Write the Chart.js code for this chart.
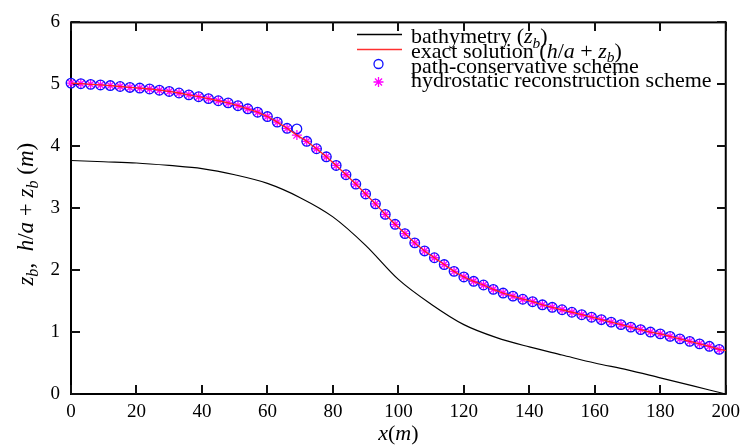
<!DOCTYPE html>
<html>
<head>
<meta charset="utf-8">
<script src="https://cdn.jsdelivr.net/npm/chart.js@4/dist/chart.umd.min.js"></script>
<style>
  html, body { margin: 0; padding: 0; background: #ffffff; }
  #wrap { width: 747px; height: 448px; }
</style>
</head>
<body>
<div id="wrap"><canvas id="c" width="747" height="448"></canvas></div>
<script>
// ---------- data ----------
const xTickLabels = ['0','20','40','60','80','100','120','140','160','180','200'];
const yTickLabels = ['0','1','2','3','4','5','6'];

const bathX = [0,10,20,30,40,50,60,70,80,90,100,110,120,130,140,150,160,170,180,190,200];
const bathY = [3.77,3.75,3.73,3.69,3.64,3.54,3.40,3.17,2.86,2.40,1.85,1.45,1.12,0.91,0.76,0.63,0.50,0.39,0.26,0.13,0.00];

const schemeX = [0,3,6,9,12,15,18,21,24,27,30,33,36,39,42,45,48,51,54,57,60,63,66,69,72,75,78,81,84,87,90,93,96,99,
  102,105,108,111,114,117,120,123,126,129,132,135,138,141,144,147,150,153,156,159,162,165,168,171,174,177,180,183,186,189,192,195,198];

const exactX = [0,3,6,9,12,15,18,21,24,27,30,33,36,39,42,45,48,51,54,57,60,63,66,69,72,75,78,81,84,87,90,93,96,99,
  102,105,108,111,114,117,120,123,126,129,132,135,138,141,144,147,150,153,156,159,162,165,168,171,174,177,180,183,186,189,192,195,198,200];
const exactY = [5.02,5.01,5.00,4.99,4.98,4.965,4.95,4.94,4.925,4.905,4.885,4.86,4.83,4.80,4.77,4.735,4.70,4.655,4.605,4.55,4.48,4.39,4.29,4.18,
  4.08,3.96,3.83,3.69,3.54,3.39,3.23,3.07,2.90,2.74,2.59,2.44,2.31,2.20,2.09,1.98,1.89,1.82,1.76,1.69,1.63,1.58,1.53,1.49,1.44,1.40,
  1.36,1.32,1.28,1.24,1.20,1.16,1.12,1.08,1.04,1.00,0.97,0.93,0.89,0.85,0.81,0.77,0.72,0.70];

const pathConsY = [5.02,5.01,5.00,4.99,4.98,4.965,4.95,4.94,4.925,4.905,4.885,4.86,4.83,4.80,4.77,4.735,4.70,4.655,4.605,4.55,4.48,4.39,4.29,4.28,
  4.08,3.96,3.83,3.69,3.54,3.39,3.23,3.07,2.90,2.74,2.59,2.44,2.31,2.20,2.09,1.98,1.89,1.82,1.76,1.69,1.63,1.58,1.53,1.49,1.44,1.40,
  1.36,1.32,1.28,1.24,1.20,1.16,1.12,1.08,1.04,1.00,0.97,0.93,0.89,0.85,0.81,0.77,0.72];
const hydroY = [5.02,5.01,5.00,4.99,4.98,4.965,4.95,4.94,4.925,4.905,4.885,4.86,4.83,4.80,4.77,4.735,4.70,4.655,4.605,4.55,4.48,4.39,4.29,4.18,
  4.08,3.96,3.83,3.69,3.54,3.39,3.23,3.07,2.90,2.74,2.59,2.44,2.31,2.20,2.09,1.98,1.89,1.82,1.76,1.69,1.63,1.58,1.53,1.49,1.44,1.40,
  1.36,1.32,1.28,1.24,1.20,1.16,1.12,1.08,1.04,1.00,0.97,0.93,0.89,0.85,0.81,0.77,0.72];

// ---------- helpers ----------
const FONT = "'Liberation Serif', 'Times New Roman', serif";
function pts(xs, ys) { return xs.map((x, i) => ({ x: x, y: ys[i] })); }

// rich text: segments {t, it, sub}
function richWidth(ctx, segs, size) {
  let w = 0;
  segs.forEach(s => {
    const sz = s.sub ? size * 0.7 : size;
    ctx.font = (s.it ? 'italic ' : '') + sz + 'px ' + FONT;
    w += ctx.measureText(s.t).width;
  });
  return w;
}
function drawRich(ctx, segs, x, y, size) {
  let cx = x;
  segs.forEach(s => {
    const sz = s.sub ? size * 0.7 : size;
    ctx.font = (s.it ? 'italic ' : '') + sz + 'px ' + FONT;
    ctx.fillText(s.t, cx, s.sub ? y + size * 0.22 : y);
    cx += ctx.measureText(s.t).width;
  });
}

const legendItems = [
  { kind: 'line', color: '#000000', width: 1.3,
    segs: [{ t: 'bathymetry (' }, { t: 'z', it: true }, { t: 'b', it: true, sub: true }, { t: ')' }] },
  { kind: 'line', color: '#ff3030', width: 1.6,
    segs: [{ t: 'exact solution (' }, { t: 'h', it: true }, { t: '/' }, { t: 'a', it: true }, { t: ' + ' },
           { t: 'z', it: true }, { t: 'b', it: true, sub: true }, { t: ')' }] },
  { kind: 'point', style: 'circle', color: '#1010ff', radius: 4.5,
    segs: [{ t: 'path-conservative scheme' }] },
  { kind: 'point', style: 'star', color: '#ff00ff', radius: 5,
    segs: [{ t: 'hydrostatic reconstruction scheme' }] }
];

const yTitle = [{ t: 'z', it: true }, { t: 'b', it: true, sub: true }, { t: ',  ' }, { t: 'h', it: true }, { t: '/' },
  { t: 'a', it: true }, { t: ' + ' }, { t: 'z', it: true }, { t: 'b', it: true, sub: true }, { t: ' (' }, { t: 'm', it: true }, { t: ')' }];
const xTitle = [{ t: 'x', it: true }, { t: '(' }, { t: 'm', it: true }, { t: ')' }];

const framePlugin = {
  id: 'frame',
  beforeDatasetsDraw(chart) {
    const { ctx, chartArea: a, scales } = chart;
    ctx.save();
    // plot frame
    ctx.strokeStyle = '#000000';
    ctx.lineWidth = 2;
    ctx.strokeRect(a.left, a.top, a.right - a.left, a.bottom - a.top);
    // tick marks on all four sides, pointing inward
    ctx.fillStyle = '#111111';
    const tl = 9;
    const L = Math.round(a.left), R = Math.round(a.right), T = Math.round(a.top), B = Math.round(a.bottom);
    xTickLabels.forEach(lbl => {
      const px = Math.round(scales.x.getPixelForValue(Number(lbl)));
      ctx.fillRect(px - 1, B - tl, 2, tl);
      ctx.fillRect(px - 1, T, 2, tl);
    });
    yTickLabels.forEach(lbl => {
      const py = Math.round(scales.y.getPixelForValue(Number(lbl)));
      ctx.fillRect(L, py - 1, tl, 2);
      ctx.fillRect(R - tl, py - 1, tl, 2);
    });
    ctx.restore();
  },
  afterDraw(chart) {
    const { ctx, chartArea: a } = chart;
    ctx.save();
    ctx.textBaseline = 'alphabetic';
    ctx.textAlign = 'left';
    // legend
    const lsize = 22;
    const rowY = [34.5, 49.5, 64, 82];
    const baseY = [43, 57.5, 72.5, 87];
    legendItems.forEach((it, i) => {
      if (it.kind === 'line') {
        ctx.strokeStyle = it.color; ctx.lineWidth = it.width;
        ctx.beginPath(); ctx.moveTo(357, rowY[i]); ctx.lineTo(402, rowY[i]); ctx.stroke();
      } else {
        ctx.strokeStyle = it.color; ctx.fillStyle = 'rgba(0,0,0,0)'; ctx.lineWidth = 1.3;
        Chart.helpers.drawPoint(ctx, { pointStyle: it.style, radius: it.radius, rotation: 0, borderWidth: 1.3 }, 378.5, rowY[i]);
      }
      ctx.fillStyle = '#000000';
      drawRich(ctx, it.segs, 411, baseY[i], lsize);
    });
    // x title
    const tsize = 22;
    const xw = richWidth(ctx, xTitle, tsize);
    drawRich(ctx, xTitle, (a.left + a.right) / 2 - xw / 2, 440, tsize);
    // y title
    const ysize = 23;
    const yw = richWidth(ctx, yTitle, ysize);
    ctx.translate(33, (a.top + a.bottom) / 2 + 6);
    ctx.rotate(-Math.PI / 2);
    drawRich(ctx, yTitle, -yw / 2, 0, ysize);
    ctx.restore();
  }
};

new Chart(document.getElementById('c'), {
  type: 'scatter',
  data: {
    datasets: [
      { label: 'bathymetry (z_b)', data: pts(bathX, bathY), showLine: true, borderColor: '#000000',
        borderWidth: 1.2, pointRadius: 0, cubicInterpolationMode: 'monotone', clip: false },
      { label: 'exact solution (h/a + z_b)', data: pts(exactX, exactY), showLine: true, borderColor: '#ff2020',
        borderWidth: 1.3, pointRadius: 0, clip: false },
      { label: 'path-conservative scheme', data: pts(schemeX, pathConsY), showLine: false, pointStyle: 'circle',
        pointRadius: 4.8, borderColor: '#1010ff', backgroundColor: 'rgba(0,0,0,0)', pointBorderWidth: 1.3, clip: false },
      { label: 'hydrostatic reconstruction scheme', data: pts(schemeX, hydroY), showLine: false, pointStyle: 'star',
        pointRadius: 5, borderColor: '#ff00ff', backgroundColor: '#ff00ff', pointBorderWidth: 1.3, clip: false }
    ]
  },
  options: {
    responsive: false,
    animation: false,
    devicePixelRatio: 1,
    layout: { padding: { top: 17, right: 20, left: 0, bottom: 0 } },
    plugins: { legend: { display: false }, tooltip: { enabled: false } },
    scales: {
      x: {
        type: 'linear', position: 'bottom', min: 0, max: 200,
        afterFit: s => { s.height = 54; },
        grid: { display: false, drawTicks: false },
        border: { display: false },
        ticks: { stepSize: 20, padding: 7, color: '#000000', maxRotation: 0,
                 font: { family: FONT, size: 19 },
                 callback: (v, i) => xTickLabels[i] }
      },
      y: {
        type: 'linear', position: 'left', min: 0, max: 6,
        afterFit: s => { s.width = 71; },
        grid: { display: false, drawTicks: false },
        border: { display: false },
        ticks: { stepSize: 1, padding: 11, color: '#000000',
                 font: { family: FONT, size: 19 },
                 callback: (v, i) => yTickLabels[i] }
      }
    }
  },
  plugins: [framePlugin]
});
</script>
</body>
</html>
